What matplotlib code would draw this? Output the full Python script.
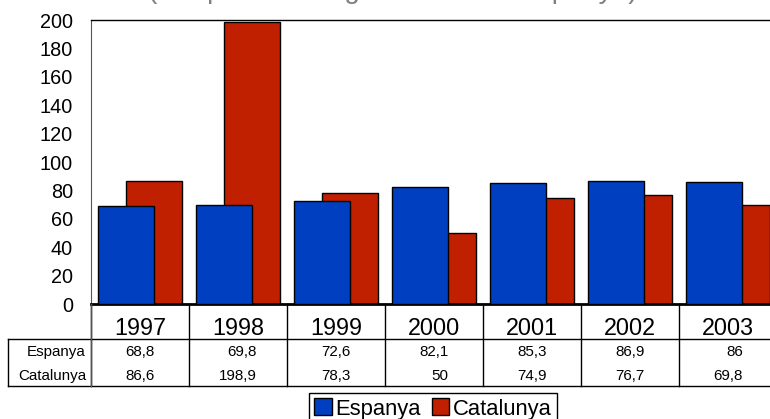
import numpy as np
import matplotlib
matplotlib.use("Agg")
import matplotlib.pyplot as plt
from matplotlib.patches import Patch
from matplotlib.lines import Line2D
import matplotlib.transforms as mtransforms

plt.rcParams['font.family'] = ['Liberation Sans', 'DejaVu Sans']

years = ['1997', '1998', '1999', '2000', '2001', '2002', '2003']
espanya = [68.8, 69.8, 72.6, 82.1, 85.3, 86.9, 86]
catalunya = [86.6, 198.9, 78.3, 50, 74.9, 76.7, 69.8]
series_names = ['Espanya', 'Catalunya']
title = "(Despesa en el govern total d'Espanya)"

blue = '#0040C0'
red = '#C02000'

W, H = 770, 419
fig = plt.figure(figsize=(W / 100, H / 100), dpi=100)


def fx(px):
    return px / W


def fy(py):
    return 1 - py / H


# plot area (right part runs a bit past the picture edge, like the original crop)
ax = fig.add_axes([fx(91), fy(304), fx(777 - 91), fy(20) - fy(304)])
x = np.arange(len(years))
ax.bar(x + 0.643, catalunya, width=0.566, color=red, edgecolor='black', linewidth=1, zorder=2)
ax.bar(x + 0.357, espanya, width=0.566, color=blue, edgecolor='black', linewidth=1, zorder=3)
ax.set_xlim(0, len(years))
ax.set_ylim(0, 200)
ax.set_yticks(np.arange(0, 201, 20))
ax.tick_params(axis='y', length=0, pad=13, labelsize=14.3)
ax.set_xticks([])
ax.spines['right'].set_visible(False)
ax.spines['left'].set_color('#555555')
ax.spines['top'].set_linewidth(1)
ax.spines['bottom'].set_linewidth(2)

# title, mostly cut off by the top edge
fig.text(fx(148), fy(-2), title, fontsize=20.2, color='#808080', ha='left', va='baseline')

# data table under the axis
blend = mtransforms.blended_transform_factory(ax.transData, fig.transFigure)
line_kw = dict(color='black', linewidth=1)

for k in range(len(years) + 1):
    fig.add_artist(Line2D([k, k], [fy(304), fy(386)], transform=blend, **line_kw))
fig.add_artist(Line2D([fx(8), fx(W + 10)], [fy(339), fy(339)], transform=fig.transFigure, **line_kw))
fig.add_artist(Line2D([fx(8), fx(W + 10)], [fy(386), fy(386)], transform=fig.transFigure, **line_kw))
fig.add_artist(Line2D([fx(8), fx(8)], [fy(339), fy(386)], transform=fig.transFigure, **line_kw))
fig.add_artist(Line2D([fx(91), fx(91)], [fy(304), fy(386)], transform=fig.transFigure, color='#555555', linewidth=1))

for i, yr in enumerate(years):
    ax.text(i + 0.5, fy(328), yr, transform=blend, ha='center', va='center', fontsize=16.8)


def fmt(v):
    return f"{v:g}".replace('.', ',')


def text_w(s, size):
    return sum(0.278 if c == ',' else 0.556 for c in s) * size


val_size = 10.9
row_y = [fy(352), fy(376)]
for name, yy in zip(series_names, row_y):
    fig.text(fx(86), yy, name, ha='right', va='center', fontsize=val_size)

for i in range(len(years)):
    labels = [fmt(espanya[i]), fmt(catalunya[i])]
    half = max(text_w(s, val_size) for s in labels) / 2
    for s, yy in zip(labels, row_y):
        ax.annotate(s, xy=(i + 0.5, yy), xycoords=blend, xytext=(half, 0),
                    textcoords='offset points', ha='right', va='center', fontsize=val_size)

handles = [Patch(facecolor=blue, edgecolor='black'), Patch(facecolor=red, edgecolor='black')]
leg = fig.legend(handles, series_names, loc='upper left', bbox_to_anchor=(fx(309), fy(393)),
                 ncol=2, fontsize=15.8, frameon=True, fancybox=False, edgecolor='black',
                 framealpha=1, handlelength=0.8, handleheight=0.8, handletextpad=0.15,
                 columnspacing=0.5, borderpad=0.25, borderaxespad=0)
leg.get_frame().set_linewidth(1)

fig.savefig('out.png', dpi=100)
